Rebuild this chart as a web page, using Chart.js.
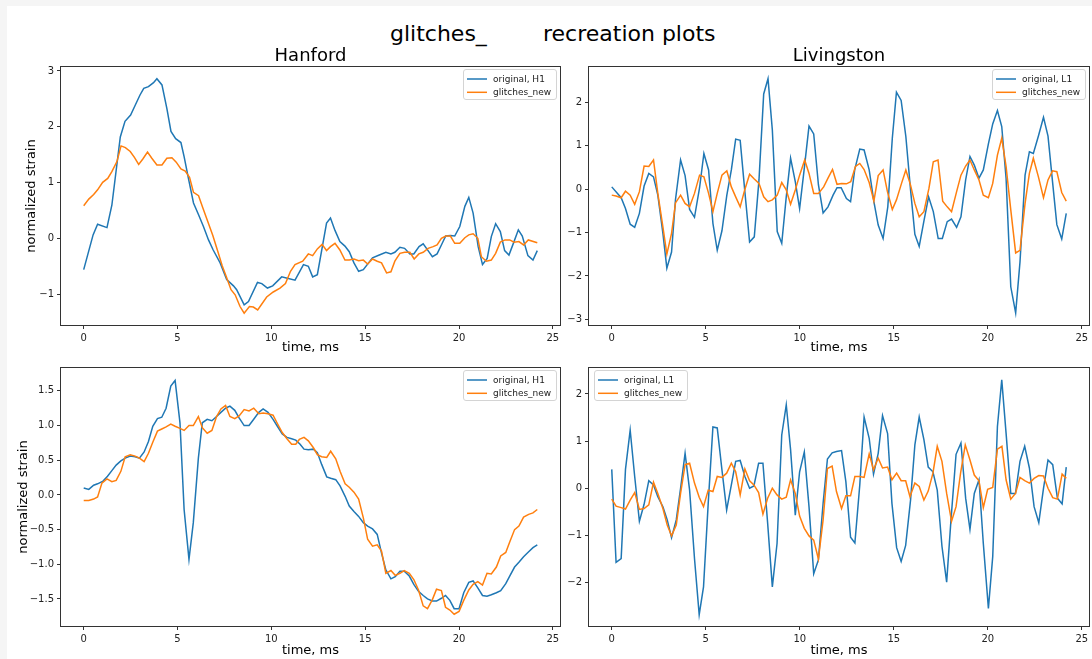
<!DOCTYPE html>
<html>
<head>
<meta charset="utf-8">
<script src="https://cdn.jsdelivr.net/npm/chart.js@4.4.1/dist/chart.umd.min.js"></script>
<style>
  html, body { margin: 0; padding: 0; }
  body {
    width: 1092px; height: 659px; position: relative; overflow: hidden;
    background: #f5f5f5; font-family: "DejaVu Sans", sans-serif;
  }
  #figura { position: absolute; left: 7px; top: 6px; right: 0; bottom: 0; background: #fff; }
  .panel { position: absolute; }
  .supertitulo { position: absolute; top: 21px; font-size: 22px; color: #000; white-space: pre; line-height: 1.16; }
</style>
</head>
<body>
<div id="figura"></div>
<div class="supertitulo" style="left:390px">glitches_</div>
<div class="supertitulo" style="left:543px">recreation plots</div>

<script>
// --- Datos ---
// Eje de tiempo (ms), común a los cuatro paneles
const ticksTiempo = [0, 5, 10, 15, 20, 25];
const rangoTiempo = [-1.21, 25.38];

// Hanford, fila superior
const ticksHanfordA = [-1, 0, 1, 2, 3];
const rangoHanfordA = [-1.54, 3.07];
const hanfordA_original = [
  [0,-0.55],[0.5,0.07],[0.74,0.26],[1.24,0.2],[1.5,0.6],[1.95,1.82],[2.2,2.1],[2.5,2.21],[2.75,2.39],
  [3.0,2.57],[3.2,2.69],[3.45,2.72],[3.72,2.79],[3.9,2.86],[4.17,2.75],[4.43,2.33],[4.65,1.92],[4.9,1.79],
  [5.18,1.72],[5.35,1.47],[5.58,1.08],[5.85,0.64],[6.12,0.43],[6.38,0.22],[6.65,-0.02],[6.9,-0.2],
  [7.27,-0.43],[7.62,-0.73],[7.98,-0.84],[8.15,-0.91],[8.55,-1.18],[8.78,-1.12],[9.26,-0.78],[9.49,-0.8],
  [9.79,-0.88],[10.07,-0.84],[10.55,-0.68],[10.8,-0.7],[11.26,-0.74],[11.71,-0.46],[11.97,-0.49],
  [12.2,-0.68],[12.45,-0.64],[12.94,0.28],[13.15,0.37],[13.39,0.15],[13.65,-0.05],[13.92,-0.13],
  [14.15,-0.23],[14.4,-0.43],[14.65,-0.58],[14.9,-0.55],[15.39,-0.34],[15.75,-0.29],[16.1,-0.24],
  [16.37,-0.27],[16.58,-0.24],[16.85,-0.15],[17.1,-0.17],[17.38,-0.27],[17.59,-0.27],[17.87,-0.14],
  [18.09,-0.09],[18.35,-0.21],[18.58,-0.32],[18.83,-0.27],[19.06,-0.11],[19.29,0.05],[19.54,0.06],
  [19.77,0.05],[20.04,0.22],[20.31,0.58],[20.52,0.74],[20.75,0.46],[21.02,-0.14],[21.25,-0.46],
  [21.5,-0.35],[21.72,0.04],[21.95,0.27],[22.2,0.13],[22.43,-0.21],[22.66,-0.29],[22.93,-0.05],
  [23.16,0.16],[23.37,0.05],[23.67,-0.3],[23.94,-0.38],[24.17,-0.21]
];
const hanfordA_nuevo = [
  [0,0.59],[0.27,0.71],[0.53,0.79],[0.74,0.875],[1.01,1.01],[1.28,1.08],[1.5,1.2],[1.77,1.38],[1.99,1.66],
  [2.22,1.63],[2.48,1.56],[2.71,1.45],[2.93,1.33],[3.16,1.43],[3.4,1.55],[3.63,1.44],[3.9,1.32],[4.17,1.32],
  [4.43,1.44],[4.7,1.45],[4.93,1.37],[5.18,1.25],[5.41,1.21],[5.64,1.1],[5.85,0.83],[6.12,0.77],[6.35,0.55],
  [6.61,0.31],[6.88,0.06],[7.13,-0.21],[7.38,-0.48],[7.59,-0.67],[7.85,-0.91],[8.07,-1.0],[8.33,-1.21],
  [8.55,-1.33],[8.83,-1.21],[9.04,-1.22],[9.27,-1.27],[9.75,-1.04],[10.1,-0.95],[10.46,-0.88],[10.75,-0.8],
  [11.02,-0.58],[11.26,-0.46],[11.67,-0.4],[11.97,-0.27],[12.2,-0.3],[12.45,-0.18],[12.7,-0.1],[12.94,-0.21],
  [13.15,-0.14],[13.39,-0.08],[13.65,-0.2],[13.92,-0.38],[14.15,-0.38],[14.4,-0.36],[14.65,-0.39],[14.9,-0.38],
  [15.13,-0.45],[15.39,-0.36],[15.64,-0.4],[15.87,-0.43],[16.14,-0.61],[16.37,-0.59],[16.58,-0.4],[16.85,-0.26],
  [17.1,-0.24],[17.38,-0.24],[17.61,-0.36],[17.86,-0.27],[18.09,-0.24],[18.35,-0.17],[18.62,-0.14],
  [18.83,-0.11],[19.06,0.01],[19.29,0.05],[19.54,0.05],[19.77,-0.08],[20.04,-0.08],[20.31,0.02],[20.52,0.07],
  [20.75,0.09],[21.0,0.01],[21.19,-0.32],[21.46,-0.4],[21.72,-0.38],[21.95,-0.26],[22.2,-0.06],[22.45,-0.02],
  [22.7,-0.02],[22.93,-0.06],[23.19,-0.05],[23.44,-0.11],[23.69,-0.02],[24.17,-0.07]
];

// Livingston, fila superior
const ticksLivingstonA = [-3, -2, -1, 0, 1, 2];
const rangoLivingstonA = [-3.13, 2.81];
const livingstonA_original = [
  [0,0.05],[0.5,-0.2],[0.73,-0.45],[0.98,-0.81],[1.22,-0.88],[1.47,-0.56],[1.72,0.07],[1.97,0.36],[2.22,0.28],
  [2.45,-0.14],[2.72,-1.02],[2.93,-1.82],[3.18,-1.45],[3.39,-0.24],[3.66,0.67],[3.9,0.31],[4.14,-0.47],
  [4.4,-0.65],[4.67,0.03],[4.9,0.82],[5.15,0.44],[5.38,-0.79],[5.61,-1.41],[5.86,-0.96],[6.12,-0.14],
  [6.36,0.44],[6.59,1.15],[6.83,1.12],[7.07,-0.02],[7.33,-1.22],[7.58,-1.1],[7.83,0.21],[8.08,2.19],
  [8.31,2.54],[8.54,1.36],[8.8,-0.98],[9.04,-1.25],[9.28,-0.18],[9.51,0.71],[9.76,0.17],[9.99,-0.45],
  [10.23,0.44],[10.49,1.45],[10.74,1.27],[10.99,0.1],[11.24,-0.55],[11.5,-0.41],[11.77,-0.14],[11.98,0.03],
  [12.2,0.03],[12.48,-0.22],[12.7,-0.29],[12.92,0.44],[13.19,0.92],[13.42,0.9],[13.69,0.44],[13.94,-0.29],
  [14.17,-0.83],[14.43,-1.14],[14.68,-0.41],[14.92,1.17],[15.14,2.23],[15.39,2.04],[15.64,1.21],[15.89,-0.02],
  [16.12,-1.04],[16.35,-1.32],[16.6,-0.74],[16.85,-0.18],[17.1,-0.52],[17.36,-1.14],[17.58,-1.14],
  [17.84,-0.75],[18.07,-0.69],[18.34,-0.88],[18.57,-0.64],[18.82,0.21],[19.05,0.75],[19.28,0.55],
  [19.53,0.25],[19.76,0.44],[20.03,1.04],[20.26,1.5],[20.51,1.81],[20.74,1.44],[20.97,0.25],[21.22,-2.25],
  [21.48,-2.85],[21.71,-1.68],[21.98,0.32],[22.21,0.86],[22.42,0.82],[22.69,1.22],[22.96,1.65],[23.2,1.22],
  [23.44,0.17],[23.67,-0.82],[23.93,-1.15],[24.17,-0.56]
];
const livingstonA_nuevo = [
  [0,-0.14],[0.23,-0.16],[0.5,-0.2],[0.73,-0.05],[0.98,-0.14],[1.22,-0.35],[1.47,-0.06],[1.72,0.53],
  [1.97,0.52],[2.22,0.67],[2.45,-0.1],[2.72,-0.87],[2.93,-1.5],[3.18,-1.02],[3.39,-0.32],[3.66,-0.14],
  [3.9,-0.33],[4.14,-0.41],[4.4,-0.1],[4.67,0.32],[4.9,0.28],[5.15,-0.1],[5.38,-0.52],[5.61,-0.1],
  [5.86,0.32],[6.12,0.42],[6.36,0.05],[6.59,-0.18],[6.83,-0.41],[7.07,-0.02],[7.33,0.34],[7.58,0.23],
  [7.83,0.13],[8.08,-0.18],[8.31,-0.29],[8.54,-0.25],[8.8,-0.14],[9.04,0.15],[9.28,-0.02],[9.51,-0.35],
  [9.76,-0.02],[9.99,0.32],[10.26,0.67],[10.49,0.36],[10.74,-0.1],[10.99,-0.1],[11.27,0.05],[11.5,0.25],
  [11.74,0.45],[11.98,0.11],[12.22,0.13],[12.48,0.12],[12.71,0.17],[12.96,0.52],[13.19,0.59],[13.42,0.45],
  [13.69,0.15],[13.94,-0.28],[14.17,0.31],[14.43,0.44],[14.66,-0.06],[14.92,-0.47],[15.14,-0.25],
  [15.41,0.13],[15.64,0.44],[15.89,0.09],[16.12,-0.33],[16.35,-0.64],[16.6,-0.52],[16.87,0.02],[17.1,0.63],
  [17.35,0.67],[17.6,-0.28],[17.84,-0.41],[18.07,-0.52],[18.34,-0.06],[18.57,0.32],[18.82,0.53],[19.05,0.67],
  [19.28,0.44],[19.53,0.21],[19.76,-0.14],[20.03,-0.2],[20.26,0.13],[20.51,0.78],[20.74,1.17],[20.97,0.52],
  [21.22,-0.48],[21.48,-1.47],[21.71,-1.41],[21.98,-0.33],[22.21,0.36],[22.42,0.71],[22.69,0.28],
  [22.96,-0.2],[23.2,0.21],[23.44,0.42],[23.67,0.4],[23.93,-0.08],[24.17,-0.28]
];

// Hanford, fila inferior
const ticksHanfordB = [-1.5, -1, -0.5, 0, 0.5, 1, 1.5];
const rangoHanfordB = [-1.89, 1.83];
const hanfordB_original = [
  [0,0.1],[0.27,0.08],[0.53,0.14],[0.74,0.16],[1.03,0.2],[1.27,0.27],[1.5,0.35],[1.73,0.43],[1.98,0.49],
  [2.21,0.53],[2.48,0.56],[2.74,0.55],[2.97,0.53],[3.22,0.62],[3.45,0.77],[3.68,0.99],[3.93,1.1],[4.16,1.12],
  [4.39,1.25],[4.64,1.57],[4.87,1.65],[5.13,1.04],[5.35,-0.21],[5.61,-0.93],[5.84,-0.4],[6.11,0.53],
  [6.32,1.04],[6.58,1.09],[6.83,1.07],[7.08,1.13],[7.31,1.19],[7.56,1.25],[7.79,1.28],[8.05,1.22],[8.28,1.11],
  [8.55,1.0],[8.81,1.0],[9.06,1.09],[9.33,1.19],[9.56,1.24],[9.82,1.19],[10.09,1.09],[10.32,0.99],
  [10.58,0.88],[10.83,0.83],[11.08,0.81],[11.3,0.79],[11.53,0.73],[11.74,0.66],[11.97,0.65],[12.24,0.66],
  [12.45,0.61],[12.68,0.44],[12.95,0.26],[13.16,0.24],[13.43,0.22],[13.66,0.13],[13.93,-0.02],[14.15,-0.16],
  [14.4,-0.24],[14.65,-0.31],[14.9,-0.4],[15.13,-0.45],[15.39,-0.49],[15.64,-0.57],[15.87,-0.84],[16.1,-1.08],
  [16.37,-1.21],[16.6,-1.18],[16.85,-1.1],[17.08,-1.1],[17.35,-1.17],[17.59,-1.29],[17.84,-1.39],[18.09,-1.45],
  [18.32,-1.5],[18.58,-1.53],[18.8,-1.53],[19.06,-1.49],[19.28,-1.45],[19.51,-1.52],[19.74,-1.64],[20.0,-1.64],
  [20.25,-1.41],[20.52,-1.26],[20.75,-1.24],[21.0,-1.34],[21.25,-1.45],[21.49,-1.46],[21.72,-1.44],
  [21.99,-1.41],[22.22,-1.38],[22.49,-1.28],[22.7,-1.17],[22.96,-1.04],[23.19,-0.97],[23.44,-0.89],
  [23.71,-0.82],[23.94,-0.76],[24.17,-0.72]
];
const hanfordB_nuevo = [
  [0,-0.08],[0.27,-0.08],[0.53,-0.06],[0.74,-0.03],[0.97,0.17],[1.24,0.23],[1.5,0.19],[1.73,0.21],[1.98,0.34],
  [2.21,0.55],[2.48,0.58],[2.74,0.56],[2.97,0.53],[3.22,0.48],[3.45,0.6],[3.68,0.76],[3.93,0.92],[4.16,0.95],
  [4.39,0.98],[4.64,1.02],[4.87,0.99],[5.13,0.96],[5.35,0.93],[5.61,1.0],[5.84,1.0],[6.11,1.13],[6.32,0.97],
  [6.58,0.89],[6.83,0.93],[7.08,1.13],[7.31,1.24],[7.56,1.29],[7.79,1.13],[8.05,1.1],[8.28,1.14],[8.55,1.23],
  [8.81,1.21],[9.06,1.25],[9.33,1.17],[9.56,1.18],[9.82,1.17],[10.09,1.15],[10.32,1.03],[10.58,0.9],
  [10.83,0.81],[11.08,0.73],[11.3,0.73],[11.49,0.8],[11.74,0.83],[11.97,0.78],[12.24,0.68],[12.45,0.58],
  [12.68,0.55],[12.95,0.54],[13.16,0.63],[13.43,0.52],[13.66,0.34],[13.93,0.16],[14.15,0.11],[14.4,0.04],
  [14.65,-0.06],[14.9,-0.33],[15.13,-0.64],[15.39,-0.74],[15.64,-0.72],[15.87,-0.81],[16.1,-1.13],
  [16.37,-1.09],[16.6,-1.16],[16.85,-1.13],[17.08,-1.09],[17.35,-1.13],[17.59,-1.22],[17.84,-1.37],
  [18.09,-1.6],[18.32,-1.64],[18.58,-1.51],[18.8,-1.36],[19.06,-1.38],[19.28,-1.62],[19.51,-1.66],
  [19.74,-1.72],[20.0,-1.68],[20.25,-1.52],[20.52,-1.37],[20.75,-1.29],[21.0,-1.25],[21.25,-1.3],
  [21.49,-1.13],[21.72,-1.14],[21.99,-1.04],[22.22,-0.88],[22.49,-0.83],[22.7,-0.68],[22.96,-0.5],
  [23.19,-0.45],[23.44,-0.32],[23.71,-0.28],[23.94,-0.26],[24.17,-0.21]
];

// Livingston, fila inferior
const ticksLivingstonB = [-2, -1, 0, 1, 2];
const rangoLivingstonB = [-2.92, 2.55];
const livingstonB_original = [
  [0,0.4],[0.23,-1.57],[0.5,-1.49],[0.73,0.4],[0.98,1.23],[1.22,0.25],[1.47,-0.7],[1.72,-0.34],[1.97,0.16],
  [2.22,0.07],[2.45,-0.18],[2.72,-0.39],[2.95,-0.67],[3.18,-1.05],[3.43,-0.67],[3.66,0.0],[3.9,0.74],
  [4.14,-0.04],[4.4,-1.49],[4.65,-2.68],[4.88,-2.09],[5.13,-0.32],[5.38,1.3],[5.61,1.28],[5.86,0.39],
  [6.11,-0.46],[6.36,0.07],[6.59,0.57],[6.83,0.59],[7.08,0.25],[7.33,0.0],[7.56,0.05],[7.81,0.53],[8.04,0.53],
  [8.29,-0.74],[8.54,-2.09],[8.79,-1.17],[9.04,1.13],[9.28,1.77],[9.51,0.82],[9.76,-0.57],[9.99,0.35],
  [10.24,0.77],[10.49,-0.39],[10.74,-1.81],[10.99,-1.52],[11.24,-0.32],[11.47,0.62],[11.72,0.75],[11.95,0.78],
  [12.22,0.8],[12.45,0.14],[12.7,-1.04],[12.93,-1.16],[13.19,0.07],[13.42,1.51],[13.69,1.06],[13.92,0.3],
  [14.17,0.74],[14.4,1.54],[14.67,1.16],[14.9,-0.32],[15.15,-1.26],[15.39,-1.55],[15.63,-1.21],[15.89,-0.25],
  [16.12,0.92],[16.35,1.51],[16.6,1.03],[16.83,0.45],[17.08,0.35],[17.31,-0.04],[17.56,-1.23],[17.81,-1.99],
  [18.04,-0.67],[18.31,0.72],[18.57,0.96],[18.82,-0.21],[19.05,-0.87],[19.28,-0.11],[19.53,0.18],
  [19.76,-1.17],[20.03,-2.55],[20.26,-1.45],[20.51,1.31],[20.74,2.3],[20.97,1.17],[21.22,-0.11],
  [21.47,-0.11],[21.71,0.57],[21.96,0.89],[22.21,0.43],[22.46,-0.39],[22.71,-0.73],[22.96,0.0],[23.2,0.6],
  [23.45,0.5],[23.7,-0.21],[23.95,-0.33],[24.17,0.45]
];
const livingstonB_nuevo = [
  [0,-0.23],[0.23,-0.38],[0.5,-0.41],[0.73,-0.44],[0.98,-0.25],[1.22,-0.09],[1.47,-0.45],[1.72,-0.43],
  [1.97,-0.35],[2.22,0.13],[2.45,-0.11],[2.72,-0.43],[2.95,-0.78],[3.18,-1.01],[3.43,-0.78],[3.66,-0.11],
  [3.9,0.5],[4.14,0.53],[4.4,0.11],[4.65,-0.19],[4.88,-0.39],[5.13,-0.04],[5.38,-0.07],[5.61,0.25],
  [5.86,0.23],[6.11,0.32],[6.36,0.53],[6.59,0.35],[6.83,-0.14],[7.08,0.41],[7.33,0.16],[7.56,0.07],
  [7.81,-0.09],[8.04,-0.55],[8.29,-0.21],[8.54,0.0],[8.79,-0.14],[9.04,-0.23],[9.28,-0.19],[9.51,0.18],
  [9.76,-0.11],[9.99,-0.59],[10.24,-0.85],[10.49,-1.01],[10.74,-1.1],[10.99,-1.5],[11.24,-0.67],[11.47,0.42],
  [11.72,0.47],[11.95,-0.07],[12.22,-0.43],[12.45,-0.16],[12.7,-0.16],[12.93,0.25],[13.19,0.25],[13.42,0.23],
  [13.69,0.73],[13.92,0.39],[14.17,0.64],[14.4,0.43],[14.67,0.45],[14.9,0.18],[15.15,0.32],[15.39,0.16],
  [15.63,0.16],[15.86,-0.18],[16.12,0.11],[16.35,0.04],[16.6,-0.25],[16.83,-0.06],[17.08,0.32],[17.31,0.89],
  [17.56,0.57],[17.81,-0.11],[18.07,-0.7],[18.31,-0.39],[18.55,0.32],[18.8,0.92],[19.05,0.6],[19.28,0.28],
  [19.53,0.16],[19.76,-0.41],[19.99,-0.02],[20.26,0.02],[20.51,0.83],[20.75,0.89],[20.97,0.18],[21.22,-0.23],
  [21.47,-0.11],[21.71,0.23],[21.96,0.16],[22.21,0.11],[22.46,0.21],[22.71,0.27],[22.96,0.26],[23.2,0.0],
  [23.45,-0.2],[23.7,-0.23],[23.95,0.3],[24.17,0.21]
];

// --- Estilo ---
const AZUL = '#1f77b4';
const NARANJA = '#ff7f0e';
const FUENTE = '"DejaVu Sans", sans-serif';
const COLOR_EJE = '#333';

// Marco completo alrededor del área de trazado (los cuatro lados)
const marcoEjes = {
  id: 'marcoEjes',
  afterDatasetsDraw(chart) {
    const { ctx, chartArea: a } = chart;
    ctx.save();
    ctx.strokeStyle = COLOR_EJE;
    ctx.lineWidth = 1;
    const x = Math.round(a.left) - 0.5;
    const y = Math.round(a.top) - 0.5;
    ctx.strokeRect(x, y, Math.round(a.right) - Math.round(a.left) + 1, Math.round(a.bottom) - Math.round(a.top) + 1);
    ctx.restore();
  }
};

// Leyenda dentro del área de trazado, en la esquina indicada
const leyendaInterna = {
  id: 'leyendaInterna',
  afterDraw(chart, args, opts) {
    const { ctx, chartArea: a } = chart;
    const sets = chart.data.datasets;
    ctx.save();
    ctx.font = '9px ' + FUENTE;
    const anchoTexto = Math.max(...sets.map(d => ctx.measureText(d.label).width));
    const ancho = Math.round(30 + anchoTexto + 5);
    const alto = 30;
    const x = Math.round(opts.esquina === 'izquierda' ? a.left + 5 : a.right - 4 - ancho);
    const y = Math.round(a.top + 2);

    ctx.fillStyle = 'rgba(255,255,255,0.8)';
    ctx.strokeStyle = '#d4d4d4';
    ctx.lineWidth = 1;
    ctx.beginPath();
    ctx.roundRect(x + 0.5, y + 0.5, ancho, alto, 2.5);
    ctx.fill();
    ctx.stroke();

    sets.forEach((d, i) => {
      const yy = y + 10 + i * 13.3;
      ctx.strokeStyle = d.borderColor;
      ctx.lineWidth = 1.5;
      ctx.beginPath();
      ctx.moveTo(x + 4, yy);
      ctx.lineTo(x + 24, yy);
      ctx.stroke();
      ctx.fillStyle = '#222';
      ctx.textBaseline = 'middle';
      ctx.fillText(d.label, x + 30, yy + 0.5);
    });
    ctx.restore();
  }
};

function aPuntos(pares) {
  return pares.map(p => ({ x: p[0], y: p[1] }));
}

function formatoTick(v, decimales) {
  return v.toFixed(decimales).replace('-', '\u2212');
}

function crearPanel(cfg) {
  const cont = document.createElement('div');
  cont.className = 'panel';
  cont.style.left = cfg.x + 'px';
  cont.style.top = cfg.y + 'px';
  const canvas = document.createElement('canvas');
  canvas.width = cfg.ancho;
  canvas.height = cfg.alto;
  canvas.style.width = cfg.ancho + 'px';
  canvas.style.height = cfg.alto + 'px';
  cont.appendChild(canvas);
  document.body.appendChild(cont);

  const ejeComun = {
    type: 'linear',
    grid: { display: true, drawOnChartArea: false, drawTicks: true, tickLength: 4, color: COLOR_EJE, lineWidth: 1 },
    border: { display: false },
    ticks: { padding: 3, color: '#222', font: { family: FUENTE, size: 10 } }
  };

  return new Chart(canvas, {
    type: 'scatter',
    data: {
      datasets: [
        {
          label: cfg.etiqueta,
          data: aPuntos(cfg.original),
          showLine: true, pointRadius: 0, borderWidth: 1.5, borderColor: AZUL,
          backgroundColor: AZUL, tension: 0, order: 1
        },
        {
          label: 'glitches_new',
          data: aPuntos(cfg.nuevo),
          showLine: true, pointRadius: 0, borderWidth: 1.5, borderColor: NARANJA,
          backgroundColor: NARANJA, tension: 0, order: 0
        }
      ]
    },
    options: {
      responsive: false,
      animation: false,
      devicePixelRatio: 1,
      layout: { padding: { top: cfg.padArriba, right: cfg.padDerecha, left: 0, bottom: 0 } },
      plugins: {
        legend: { display: false },
        tooltip: { enabled: false },
        title: {
          display: !!cfg.titulo,
          text: cfg.titulo || '',
          fullSize: false,
          color: '#000',
          font: { family: FUENTE, size: 18, weight: 'normal', lineHeight: 1 },
          padding: { top: 7.5, bottom: 1.5 }
        },
        leyendaInterna: { esquina: cfg.esquinaLeyenda }
      },
      scales: {
        x: {
          ...ejeComun,
          min: rangoTiempo[0],
          max: rangoTiempo[1],
          afterBuildTicks: ax => { ax.ticks = ticksTiempo.map(v => ({ value: v })); },
          afterFit: ax => { ax.height = cfg.altoEjeX; },
          ticks: { ...ejeComun.ticks, callback: v => formatoTick(v, 0) },
          title: {
            display: true, text: 'time, ms', color: '#000',
            font: { family: FUENTE, size: 13 }, padding: { top: 0, bottom: cfg.padTituloX }
          }
        },
        y: {
          ...ejeComun,
          min: cfg.rango[0],
          max: cfg.rango[1],
          afterBuildTicks: ax => { ax.ticks = cfg.ticks.map(v => ({ value: v })); },
          afterFit: ax => { ax.width = cfg.anchoEjeY; },
          ticks: { ...ejeComun.ticks, callback: v => formatoTick(v, cfg.decimales) },
          title: {
            display: !!cfg.tituloY, text: 'normalized strain', color: '#000',
            font: { family: FUENTE, size: 13 }, padding: { top: cfg.padTituloY || 0, bottom: 0 }
          }
        }
      }
    },
    plugins: [marcoEjes, leyendaInterna]
  });
}

// --- Paneles ---
crearPanel({
  x: 0, y: 40, ancho: 565, alto: 320, padArriba: 0, padDerecha: 5, anchoEjeY: 61, altoEjeX: 35,
  titulo: 'Hanford', tituloY: true, padTituloY: 23.9, padTituloX: 4.5,
  etiqueta: 'original, H1', original: hanfordA_original, nuevo: hanfordA_nuevo,
  rango: rangoHanfordA, ticks: ticksHanfordA, decimales: 0, esquinaLeyenda: 'derecha'
});
crearPanel({
  x: 565, y: 40, ancho: 527, alto: 320, padArriba: 0, padDerecha: 3, anchoEjeY: 24, altoEjeX: 35,
  titulo: 'Livingston', tituloY: false, padTituloX: 4.5,
  etiqueta: 'original, L1', original: livingstonA_original, nuevo: livingstonA_nuevo,
  rango: rangoLivingstonA, ticks: ticksLivingstonA, decimales: 0, esquinaLeyenda: 'derecha'
});
crearPanel({
  x: 0, y: 355, ancho: 565, alto: 304, padArriba: 13, padDerecha: 5, anchoEjeY: 61, altoEjeX: 33,
  titulo: '', tituloY: true, padTituloY: 15.5, padTituloX: 0.7,
  etiqueta: 'original, H1', original: hanfordB_original, nuevo: hanfordB_nuevo,
  rango: rangoHanfordB, ticks: ticksHanfordB, decimales: 1, esquinaLeyenda: 'derecha'
});
crearPanel({
  x: 565, y: 355, ancho: 527, alto: 304, padArriba: 13, padDerecha: 3, anchoEjeY: 24, altoEjeX: 33,
  titulo: '', tituloY: false, padTituloX: 0.7,
  etiqueta: 'original, L1', original: livingstonB_original, nuevo: livingstonB_nuevo,
  rango: rangoLivingstonB, ticks: ticksLivingstonB, decimales: 0, esquinaLeyenda: 'izquierda'
});
</script>
</body>
</html>
